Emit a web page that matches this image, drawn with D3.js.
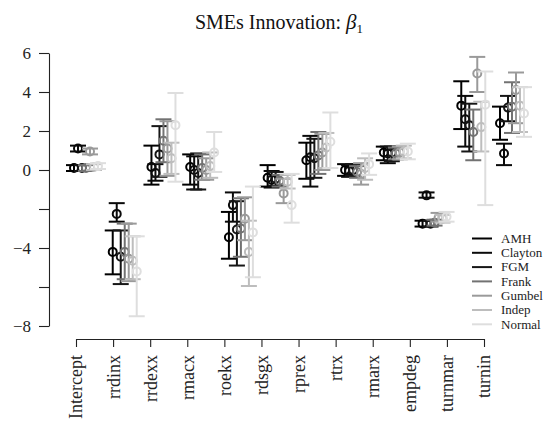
<!DOCTYPE html>
<html>
<head>
<meta charset="utf-8">
<script src="https://cdn.jsdelivr.net/npm/d3@7"></script>
<style>
  html, body { margin: 0; padding: 0; background: #fff; }
  svg { display: block; }
  svg text { font-family: "Liberation Serif", "Times New Roman", Times, "DejaVu Serif", serif !important; }
</style>
</head>
<body>
<svg id="chart" width="545" height="431"></svg>
<script>
// Covariates of the model
const categories = ["Intercept", "rrdinx", "rrdexx", "rmacx", "roekx", "rdsgx",
                    "rprex", "rtrx", "rmarx", "empdeg", "turnmar", "turnin"];
// Copula families
const families = ["AMH", "Clayton", "FGM", "Frank", "Gumbel", "Indep", "Normal"];
const familyColors = ["#000000", "#0a0a0a", "#161616", "#727272", "#9a9a9a", "#bdbdbd", "#dedede"];

// Posterior estimates, one row per family
const estimates = [
  [0.10, -4.20,  0.15,  0.15, -3.45, -0.40, 0.50,  0.00, 0.90, -2.75, 3.30, 2.40],
  [1.10, -2.25, -0.15,  0.00, -1.80, -0.50, 0.65, -0.05, 0.85, -1.30, 2.60, 0.85],
  [0.10, -4.45,  0.80, -0.15, -3.05, -0.45, 0.60,  0.00, 0.90, -2.75, 2.30, 3.20],
  [0.10, -4.20,  1.50,  0.10, -3.00, -0.55, 0.75, -0.10, 0.85, -2.70, 1.95, 3.25],
  [0.95, -4.55,  1.10,  0.00, -2.50, -1.20, 0.90, -0.20, 0.90, -2.45, 4.95, 4.10],
  [0.15, -4.65,  0.60,  0.20, -4.20, -0.60, 1.15,  0.10, 0.95, -2.50, 2.20, 3.30],
  [0.20, -5.20,  2.30,  0.90, -3.20, -1.80, 1.45,  0.30, 0.95, -2.40, 3.35, 2.90]
];
// Lower interval bounds
const lower = [
  [-0.05, -5.35, -0.75, -0.75, -4.55, -0.85, -0.45, -0.30, 0.50, -2.90, 2.10, 1.55],
  [ 0.95, -2.65, -0.55, -1.00, -2.65, -0.90, -0.85, -0.35, 0.35, -1.42, 1.20, 0.25],
  [-0.05, -5.85, -0.35, -1.00, -4.90, -0.80, -0.40, -0.30, 0.45, -2.90, 0.95, 2.50],
  [-0.05, -5.60,  0.40, -0.50, -4.45, -0.85, -0.20, -0.40, 0.55, -2.85, 0.50, 1.90],
  [ 0.80, -5.70, -0.30, -0.50, -3.60, -1.70,  0.00, -0.75, 0.55, -2.65, 4.00, 2.40],
  [ 0.00, -5.60, -0.20, -0.40, -5.95, -0.95,  0.10, -0.50, 0.60, -2.70, 0.95, 1.95],
  [ 0.05, -7.50, -0.60, -0.10, -5.50, -2.70,  0.10, -0.25, 0.55, -2.65, -1.80, 1.70]
];
// Upper interval bounds
const upper = [
  [0.25, -3.10, 1.25, 0.80, -2.15,  0.25, 1.40, 0.30, 1.20, -2.60, 4.55, 3.25],
  [1.25, -1.70, 0.30, 0.70, -1.15, -0.05, 1.75, 0.25, 1.20, -1.15, 3.80, 1.35],
  [0.25, -3.10, 2.25, 0.85, -1.60, -0.10, 1.60, 0.30, 1.20, -2.60, 3.40, 3.80],
  [0.25, -2.75, 2.60, 0.80, -1.45, -0.25, 1.95, 0.20, 1.15, -2.55, 3.10, 4.50],
  [1.10, -2.75, 2.50, 0.60, -1.40, -0.45, 1.85, 0.35, 1.20, -2.20, 5.80, 5.00],
  [0.30, -3.40, 1.40, 0.90, -2.60, -0.25, 1.90, 0.60, 1.25, -2.30, 3.50, 4.25],
  [0.35, -3.40, 3.95, 1.95, -0.85, -0.20, 2.95, 0.85, 1.35, -2.15, 5.05, 4.25]
];
const yTicks = [-8, -6, -4, -2, 0, 2, 4, 6];
const yTickLabels = ["\u22128", "", "\u22124", "", "0", "2", "4", "6"];

const svg = d3.select("#chart");

const y = d3.scaleLinear().domain([-8, 6]).range([326, 53]);
const xTick = d3.scalePoint().domain(categories).range([76, 484]);
const xGroup = d3.scalePoint().domain(categories).range([74, 500]);
const dodge = d3.scalePoint().domain(families).range([0, 24]);
const color = d3.scaleOrdinal().domain(families).range(familyColors);

// Title
const title = svg.append("text")
  .attr("x", 279).attr("y", 29)
  .attr("text-anchor", "middle")
  .attr("font-size", 20)
  .attr("fill", "#111");
title.append("tspan").text("SMEs Innovation: ");
title.append("tspan").attr("font-style", "italic").attr("font-size", 21).text("\u03B2");
title.append("tspan").attr("font-size", 13).attr("dy", 4).text("1");

// Y axis
const yAxis = d3.axisLeft(y)
  .tickValues(yTicks)
  .tickSize(10)
  .tickSizeOuter(0)
  .tickPadding(8)
  .tickFormat((d, i) => yTickLabels[i]);
const gy = svg.append("g").attr("transform", "translate(49,0)").call(yAxis);
gy.select(".domain").attr("stroke", "#222").attr("stroke-width", 1.1);
gy.selectAll(".tick line").attr("stroke", "#222").attr("stroke-width", 1.1);
gy.selectAll(".tick text")
  .attr("font-size", 17)
  .attr("fill", "#222");

// X axis
const xAxis = d3.axisBottom(xTick).tickSize(8).tickSizeOuter(0).tickPadding(0);
const gx = svg.append("g").attr("transform", "translate(0,339)").call(xAxis);
gx.select(".domain").attr("stroke", "#222").attr("stroke-width", 1.1);
gx.selectAll(".tick line").attr("stroke", "#222").attr("stroke-width", 1.1);
gx.selectAll(".tick text")
  .attr("font-size", 18)
  .attr("fill", "#222")
  .attr("text-anchor", "end")
  .attr("transform", "rotate(-90)")
  .attr("x", -16)
  .attr("y", 0)
  .attr("dy", "0.33em");

// Error bars and point estimates
const capHalf = 8;
const marks = svg.append("g");
families.forEach((fam, s) => {
  const g = marks.append("g")
    .attr("stroke", color(fam))
    .attr("fill", "none")
    .attr("stroke-width", 2);
  categories.forEach((cat, c) => {
    const cx = xGroup(cat) + dodge(fam);
    const lo = y(lower[s][c]);
    const hi = y(upper[s][c]);
    g.append("line").attr("x1", cx).attr("x2", cx).attr("y1", lo).attr("y2", hi);
    g.append("line").attr("x1", cx - capHalf).attr("x2", cx + capHalf).attr("y1", lo).attr("y2", lo);
    g.append("line").attr("x1", cx - capHalf).attr("x2", cx + capHalf).attr("y1", hi).attr("y2", hi);
    g.append("circle").attr("cx", cx).attr("cy", y(estimates[s][c])).attr("r", 4);
  });
});

// Legend
const legend = svg.append("g").attr("transform", "translate(472,238.5)");
families.forEach((fam, i) => {
  const row = legend.append("g").attr("transform", `translate(0,${i * 14.3})`);
  row.append("line").attr("x1", 0).attr("x2", 20).attr("y1", 0).attr("y2", 0)
    .attr("stroke", color(fam)).attr("stroke-width", 2);
  row.append("text").attr("x", 29).attr("y", 0).attr("dy", "0.33em")
    .attr("font-size", 13).attr("fill", "#222").text(fam);
});
</script>
</body>
</html>
